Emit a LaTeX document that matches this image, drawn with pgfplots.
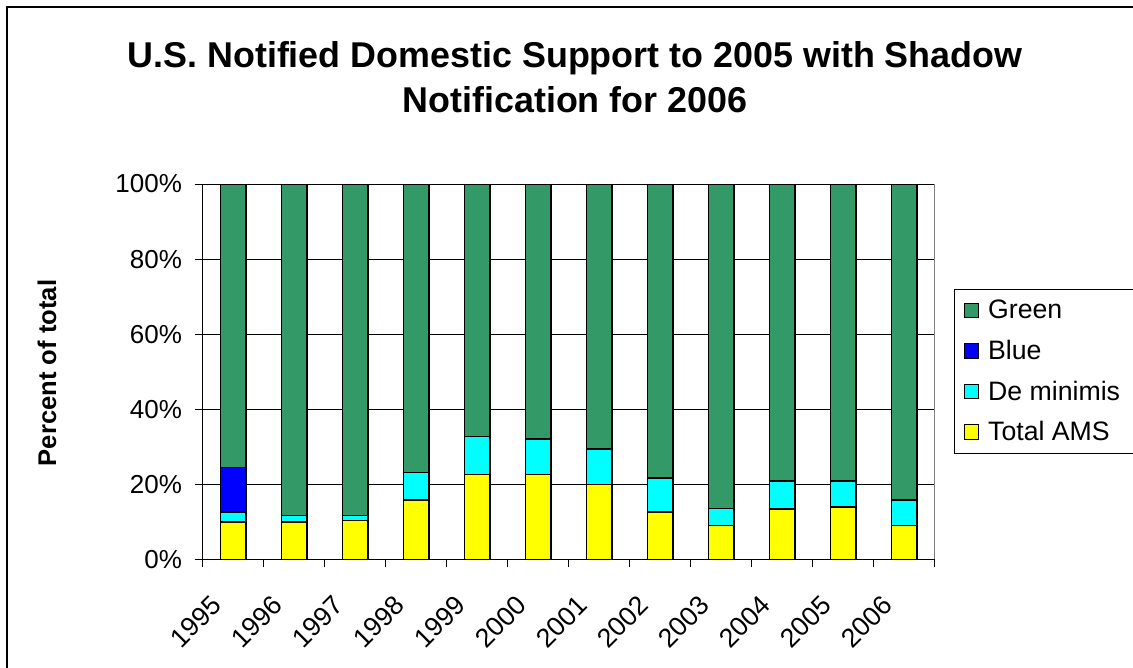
\documentclass[border=0pt]{standalone}
\usepackage{pgfplots}
\pgfplotsset{compat=1.18}
\usepackage{fontspec}
\setmainfont{Liberation Sans}
\definecolor{cgreen}{HTML}{339966}
\definecolor{cblue}{HTML}{0000FF}
\definecolor{ccyan}{HTML}{00FFFF}
\definecolor{cyellow}{HTML}{FFFF00}
\begin{document}
\begin{tikzpicture}
\path[use as bounding box] (0,0) rectangle (849.75pt,-501pt);
\draw[line width=1.5pt] (5.25pt,-5.25pt) rectangle (880pt,-540pt);
\node[font=\fontsize{26.9}{33.75}\selectfont\bfseries, align=center] at (431.25pt,-57.8pt) {U.S. Notified Domestic Support to 2005 with Shadow\\Notification for 2006};
\node[font=\fontsize{19.2}{22}\selectfont\bfseries, rotate=90] at (35.25pt,-279.75pt) {Percent of total};
\begin{axis}[
  at={(152.0pt,-419.6pt)}, anchor=south west,
  scale only axis, width=549.2pt, height=281.6pt,
  ybar stacked, bar width=19pt,
  xmin=-0.5, xmax=11.5, ymin=0, ymax=100,
  axis x line*=bottom, axis y line*=left,
  xtick={0,1,2,3,4,5,6,7,8,9,10,11},
  xticklabels={1995,1996,1997,1998,1999,2000,2001,2002,2003,2004,2005,2006},
  major x tick style={draw=none},
  minor xtick={-0.5,0.5,1.5,2.5,3.5,4.5,5.5,6.5,7.5,8.5,9.5,10.5,11.5},
  ytick={0,20,40,60,80,100},
  yticklabels={0\%,20\%,40\%,60\%,80\%,100\%},
  tick align=outside, major tick length=6pt, minor tick length=6pt,
  ymajorgrids, grid style={black, line width=0.6pt},
  axis line style={black, line width=0.9pt},
  tick style={black, line width=0.75pt},
  ticklabel style={font=\fontsize{19.5}{22}\selectfont},
  yticklabel style={xshift=-6pt},
  xticklabel style={font=\fontsize{20}{22}\selectfont, anchor=east, xshift=-10pt, yshift=-22.5pt, rotate=45},
  every axis plot/.append style={draw=black, line width=1.1pt},
  reverse legend,
  legend cell align=left,
  legend style={at={(1.026,0.720)}, anchor=north west, draw=black, line width=0.6pt,
    font=\fontsize{20}{22}\selectfont, row sep=10.5pt, inner xsep=7pt, inner ysep=6pt,
    nodes={inner xsep=4pt}},
  legend image code/.code={\draw[#1, line width=0.75pt] (0pt,-5.5pt) rectangle (11pt,5.5pt); \path[draw=none,fill=none] (0pt,0pt) -- (14pt,0pt);},
]
\addplot[fill=cyellow] coordinates {(0,10.0) (1,10.0) (2,10.4) (3,15.9) (4,22.7) (5,22.7) (6,19.9) (7,12.7) (8,9.1) (9,13.5) (10,14.0) (11,9.1)};
\addplot[fill=ccyan] coordinates {(0,2.6) (1,1.7) (2,1.3) (3,7.2) (4,10.0) (5,9.4) (6,9.5) (7,9.0) (8,4.5) (9,7.4) (10,6.9) (11,6.8)};
\addplot[fill=cblue] coordinates {(0,11.9) (1,0) (2,0) (3,0) (4,0) (5,0) (6,0) (7,0) (8,0) (9,0) (10,0) (11,0)};
\addplot[fill=cgreen] coordinates {(0,75.5) (1,88.3) (2,88.3) (3,76.9) (4,67.3) (5,67.9) (6,70.6) (7,78.3) (8,86.4) (9,79.1) (10,79.1) (11,84.1)};
\legend{Total AMS,De minimis,Blue,Green}
\draw[gray, line width=0.9pt] (rel axis cs:1,0) -- (rel axis cs:1,1);
\end{axis}
\end{tikzpicture}
\end{document}
